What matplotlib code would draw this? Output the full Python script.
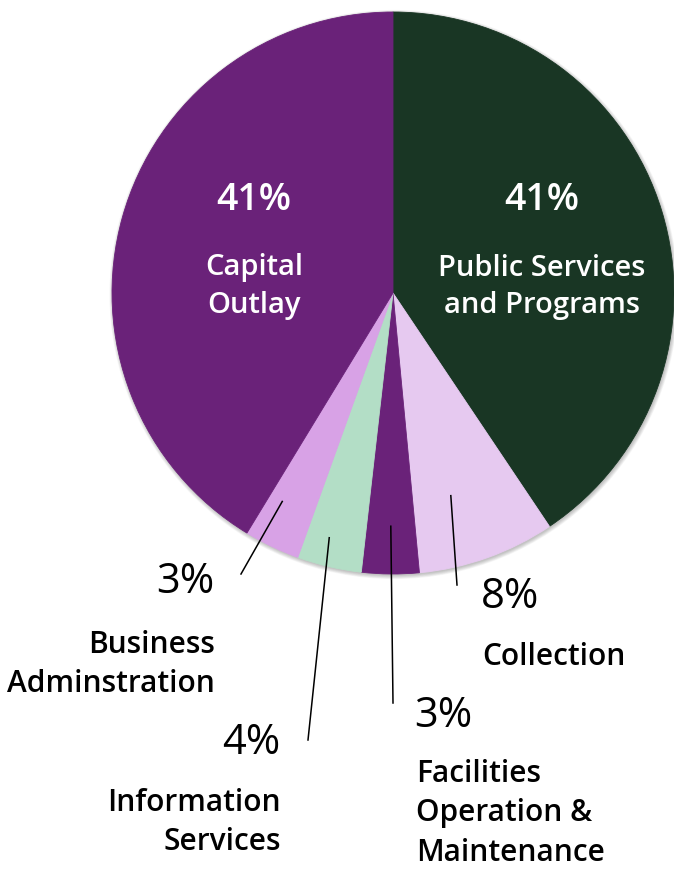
import numpy as np
import matplotlib.pyplot as plt
from matplotlib.patches import Circle

# Budget shares (%), clockwise from the top
categories = ["Public Services\nand Programs", "Collection",
              "Facilities\nOperation &\nMaintenance", "Information\nServices",
              "Business\nAdminstration", "Capital\nOutlay"]
shares = [40.6, 7.9, 3.3, 3.7, 3.2, 41.3]
pct_labels = ["41%", "8%", "3%", "4%", "3%", "41%"]
colors = ["#193624", "#e6c9f0", "#6a2279", "#b3dec6", "#d8a2e6", "#6a2279"]

W, H = 674, 869
plt.rcParams['font.family'] = ['Open Sans', 'DejaVu Sans']

fig = plt.figure(figsize=(W / 100, H / 100), dpi=100)
ax = fig.add_axes([0, 0, 1, 1])


def py(y):
    # pixel row -> data y
    return H - y


cx, cy, R = 393, py(293), 281

# soft shadow
for i in range(7):
    ax.add_patch(Circle((cx + 1, cy - 1.5), R + 0.6 * i, color='#000000',
                        alpha=0.035, lw=0, zorder=0))

wedges, _ = ax.pie(shares, colors=colors, startangle=90, counterclock=False,
                   center=(cx, cy), radius=R,
                   wedgeprops=dict(linewidth=0.6, zorder=1))
for w, c in zip(wedges, colors):
    w.set_edgecolor(c)
ax.set_xlim(0, W)
ax.set_ylim(0, H)
ax.axis('off')

# labels inside the two large slices
inner = {0: 542, 5: 254}
for i, x in inner.items():
    ax.text(x, py(200), pct_labels[i], color='white', fontsize=27,
            fontweight='semibold', ha='center', va='center')
    for k, line in enumerate(categories[i].split("\n")):
        ax.text(x, py(268 + 37 * k), line, color='white', fontsize=21,
                fontweight='semibold', ha='center', va='center')

# outside labels: (slice, pct pos, name pos, align, leader radius,
#                  leader position along slice, leader end)
outer = [
    (1, (510, 597), (482, 657), 'left', 0.75, 0.63, (457, 585)),
    (2, (443, 716), (416, 774), 'left', 0.83, 0.5, (393, 703)),
    (3, (251, 743), (281, 803), 'right', 0.90, 0.61, (308, 740)),
    (4, (185, 582), (215, 645), 'right', 0.84, 0.71, (241, 574)),
]
for i, ppos, npos, ha, rf, af, end in outer:
    ax.text(ppos[0], py(ppos[1]), pct_labels[i], color='black', fontsize=30,
            ha='center', va='center')
    for k, line in enumerate(categories[i].split("\n")):
        ax.text(npos[0], py(npos[1] + 39.5 * k), line, color='black',
                fontsize=21.5, fontweight='semibold', ha=ha, va='center')
    w = wedges[i]
    ang = np.deg2rad(w.theta2 - af * (w.theta2 - w.theta1))
    x0 = cx + rf * R * np.cos(ang)
    y0 = cy + rf * R * np.sin(ang)
    ax.plot([x0, end[0]], [y0, py(end[1])], color='black', lw=1.1, zorder=3)

fig.savefig("out.png", dpi=100)
